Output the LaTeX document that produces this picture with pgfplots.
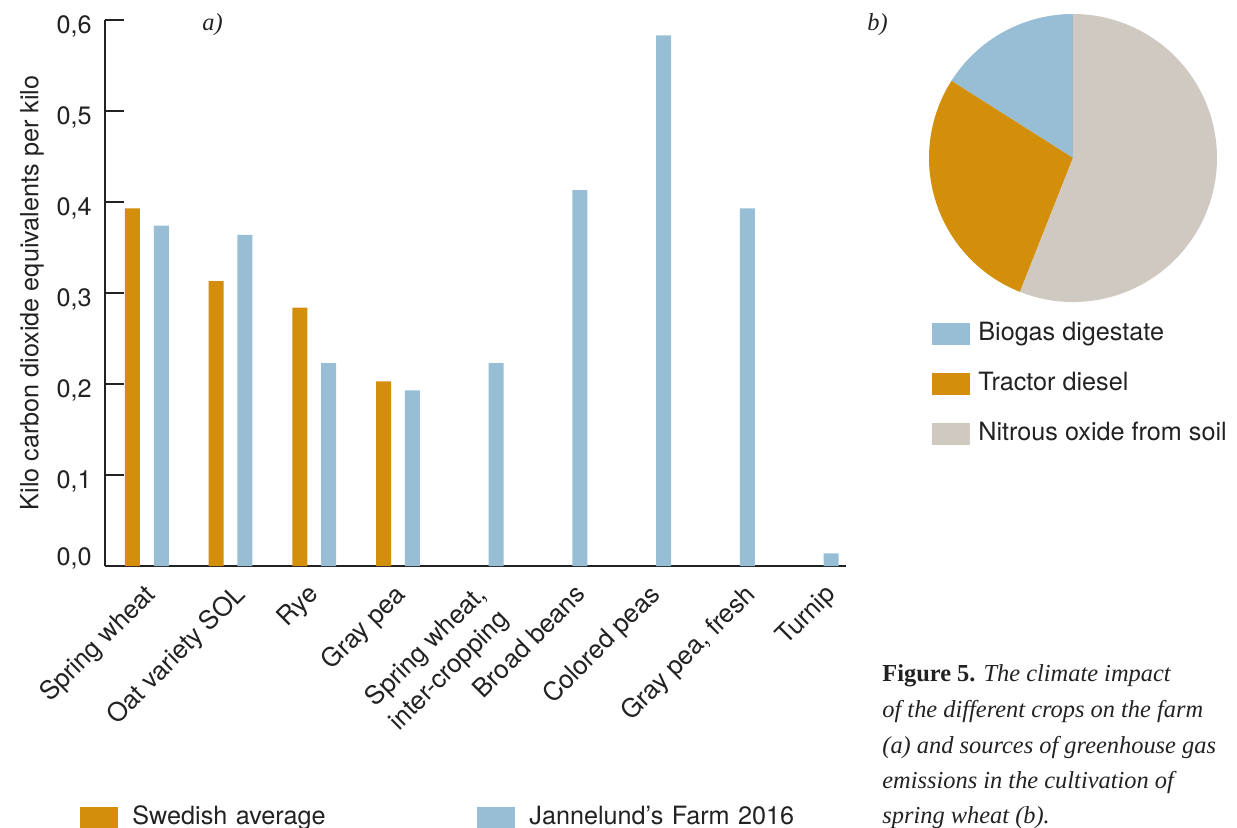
\documentclass[border=0pt]{standalone}
\usepackage{pgfplots}
\pgfplotsset{compat=1.18}
\usepackage{pgfplotstable}
\usepackage{fontspec}
\setmainfont{TeX Gyre Heros}
\newfontfamily\captionserif{Liberation Serif}

\definecolor{swedish}{HTML}{D38F0A}
\definecolor{farm}{HTML}{97BED4}
\definecolor{soil}{HTML}{D0C9C2}
\definecolor{ink}{HTML}{222222}

\newcommand\chartfont{\fontsize{12.6pt}{16pt}\selectfont}
\newcommand\cropfont{\fontsize{12.9pt}{16.5pt}\selectfont}
\newcommand\capfont{\captionserif\fontsize{12.2pt}{15pt}\selectfont}

% kg CO2-eq per kg of crop
\pgfplotstableread{
x swe
0 0.393
1 0.313
2 0.284
3 0.203
}\swedishtab
\pgfplotstableread{
x jan
0 0.374
1 0.364
2 0.223
3 0.193
4 0.223
5 0.413
6 0.583
7 0.393
8 0.014
}\farmtab
% emission sources for spring wheat, percent
\pgfplotstableread{
source share
biogas 16
diesel 28
soil 56
}\pietab

\begin{document}
\begin{tikzpicture}
\pgfplotstablegetelem{0}{share}\of\pietab \let\sA\pgfplotsretval
\pgfplotstablegetelem{1}{share}\of\pietab \let\sB\pgfplotsretval
\pgfplotstablegetelem{2}{share}\of\pietab \let\sC\pgfplotsretval
\pgfmathsetmacro\aA{90}
\pgfmathsetmacro\aB{\aA+3.6*\sA}
\pgfmathsetmacro\aC{\aB+3.6*\sB}
\pgfmathsetmacro\aD{\aC+3.6*\sC}

% (a) bar chart
\begin{axis}[
  at={(52.5pt,-283pt)}, anchor=south west,
  scale only axis, width=370.5pt, height=273pt,
  xmin=-0.5, xmax=8.35, ymin=0, ymax=0.6,
  axis x line*=bottom, axis y line*=left,
  axis line style={line width=1.4pt, draw=ink},
  tick align=inside, major tick length=9.5pt,
  ytick={0.1,0.2,0.3,0.4,0.5,0.6},
  extra y ticks={0},
  extra y tick style={yticklabel style={yshift=7pt}},
  y tick style={line width=1.3pt, draw=ink},
  yticklabel style={font=\chartfont, text=ink, inner sep=0pt, xshift=-6.5pt, yshift=-3pt,
    /pgf/number format/fixed, /pgf/number format/fixed zerofill,
    /pgf/number format/precision=1, /pgf/number format/use comma,
    /pgf/number format/assume math mode=true},
  % label anchors sit near each crop's bars
  xtick={-0.047,1.027,1.899,2.938,3.905,5.099,5.982,7.117,8.084},
  x tick style={draw=none},
  xticklabels={Spring wheat, Oat variety SOL, Rye, Gray pea, {Spring wheat,\\inter-cropping},
    Broad beans, Colored peas, {Gray pea, fresh}, Turnip},
  xticklabel shift=8pt,
  xticklabel style={font=\cropfont, text=ink, inner sep=0pt, align=left,
    rotate=45, anchor=north east},
  ylabel={Kilo carbon dioxide equivalents per kilo},
  ylabel style={at={(axis description cs:-0.0985,0.5)}, anchor=center, font=\chartfont, text=ink},
  legend columns=2,
  legend image code/.code={\fill[#1] (0pt,-5.5pt) rectangle (19pt,5.5pt); \path (26pt,0pt);},
  legend style={at={(axis description cs:-0.0337,-0.4615)}, anchor=west,
    draw=none, fill=none, inner sep=0pt, font=\chartfont, text=ink,
    nodes={inner sep=0pt, text height=9pt, text depth=2.6pt, anchor=west, text width=172.5pt, align=left}},
]
\addplot[ybar, bar width=7.5pt, bar shift=-7.2pt, fill=swedish, draw=none]
  table[x=x, y=swe] {\swedishtab};
\addlegendentry{Swedish average}
\addplot[ybar, bar width=7.5pt, bar shift=7.2pt, fill=farm, draw=none]
  table[x=x, y=jan] {\farmtab};
\addlegendentry{Jannelund’s Farm 2016}
\end{axis}

% (b) pie chart
\begin{axis}[
  at={(536.5pt,-79pt)}, anchor=center,
  scale only axis, width=144pt, height=144pt,
  xmin=-1, xmax=1, ymin=-1, ymax=1,
  hide axis, clip=false,
  legend image code/.code={\fill[#1] (0pt,-5.5pt) rectangle (19pt,5.5pt); \path (23pt,0pt);},
  legend cell align=left,
  legend style={at={(axis description cs:0.0104,-0.0694)}, anchor=north west,
    draw=none, fill=none, inner sep=0pt, row sep=13.4pt, font=\chartfont, text=ink,
    nodes={inner sep=0pt, text height=9pt, text depth=2.6pt, anchor=west}},
]
\addlegendimage{fill=farm, draw=none}
\addlegendentry{Biogas digestate}
\addlegendimage{fill=swedish, draw=none}
\addlegendentry{Tractor diesel}
\addlegendimage{fill=soil, draw=none}
\addlegendentry{Nitrous oxide from soil}
\fill[farm] (axis cs:0,0) -- ++(\aA:72pt) arc[start angle=\aA, end angle=\aB, radius=72pt] -- cycle;
\fill[swedish] (axis cs:0,0) -- ++(\aB:72pt) arc[start angle=\aB, end angle=\aC, radius=72pt] -- cycle;
\fill[soil] (axis cs:0,0) -- ++(\aC:72pt) arc[start angle=\aC, end angle=\aD, radius=72pt] -- cycle;
\end{axis}

% panel letters and caption
\node[anchor=base west, inner sep=0pt, font=\capfont, text=ink] at (101pt,-15.5pt) {\textit{a)}};
\node[anchor=base west, inner sep=0pt, font=\capfont, text=ink] at (433.5pt,-15.5pt) {\textit{b)}};
\begin{scope}[every node/.style={anchor=base west, inner sep=0pt, font=\capfont, text=ink}]
\node at (441pt,-340.5pt) {\textbf{Figure 5.} \textit{The climate impact}};
\node at (441pt,-358.5pt) {\textit{of the different crops on the farm}};
\node at (441pt,-376.5pt) {\textit{(a) and sources of greenhouse gas}};
\node at (441pt,-394.25pt) {\textit{emissions in the cultivation of}};
\node at (441pt,-411.5pt) {\textit{spring wheat (b).}};
\end{scope}

\pgfresetboundingbox
\useasboundingbox (0pt,0pt) rectangle (618.5pt,-414pt);
\end{tikzpicture}
\end{document}
